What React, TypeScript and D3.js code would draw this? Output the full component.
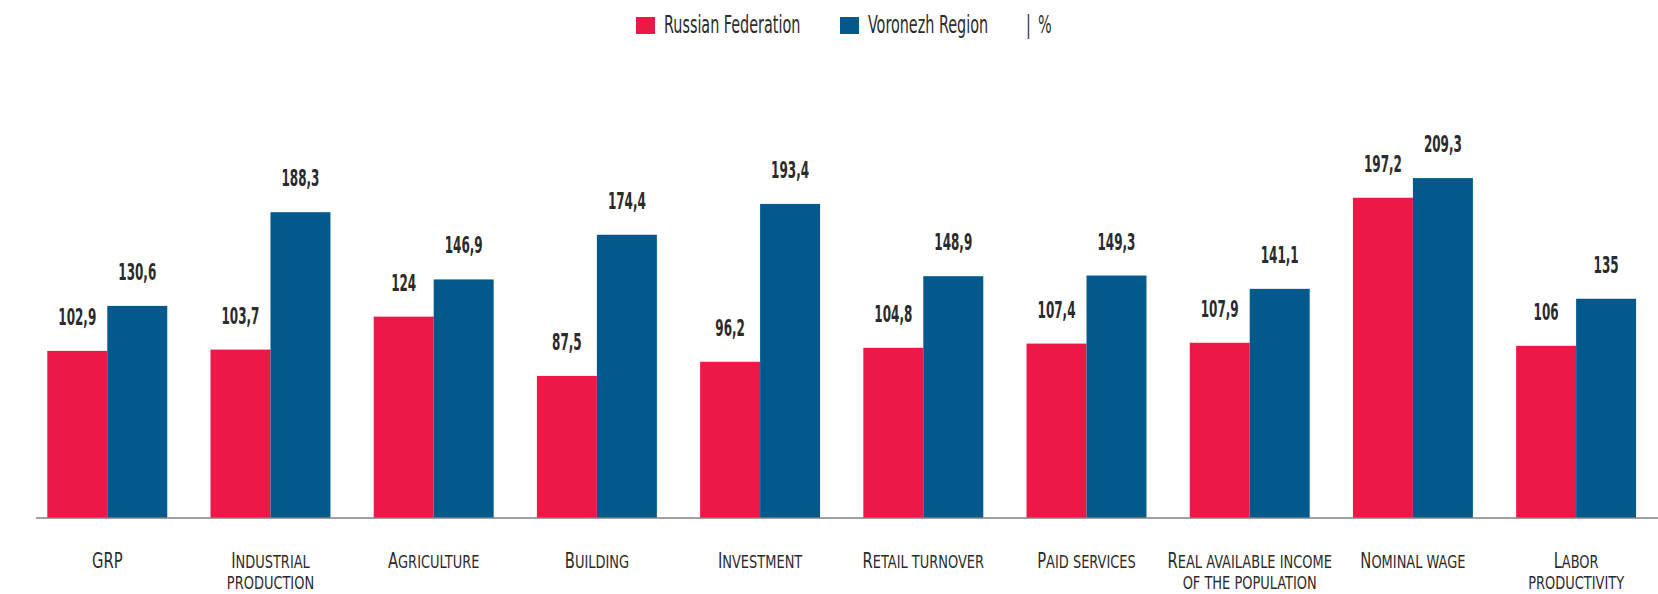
import React from "react";
import * as d3 from "d3";

const categories: string[][] = [
  ["GRP"],
  ["Industrial", "production"],
  ["Agriculture"],
  ["Building"],
  ["Investment"],
  ["Retail turnover"],
  ["Paid services"],
  ["Real available income", "of the population"],
  ["Nominal wage"],
  ["Labor", "productivity"],
];
const russia: number[] = [102.9, 103.7, 124, 87.5, 96.2, 104.8, 107.4, 107.9, 197.2, 106];
const voronezh: number[] = [130.6, 188.3, 146.9, 174.4, 193.4, 148.9, 149.3, 141.1, 209.3, 135];
const seriesNames = ["Russian Federation", "Voronezh Region"];
const unit = "%";

const RED = "#EC1848";
const BLUE = "#03598C";
const TEXT = "#2b2b2b";
const FONT = "'DejaVu Sans Condensed', 'DejaVu Sans', sans-serif";

const W = 1658;
const H = 594;

function SmallCaps({ text, size, ratio }: { text: string; size: number; ratio: number }) {
  const runs: { s: string; big: boolean }[] = [];
  for (const ch of text) {
    const big = ch !== ch.toLowerCase();
    const last = runs[runs.length - 1];
    if (last && last.big === big) last.s += ch;
    else runs.push({ s: ch, big });
  }
  return (
    <>
      {runs.map((r, i) => (
        <tspan key={i} fontSize={r.big ? size : size * ratio}>
          {r.s.toUpperCase()}
        </tspan>
      ))}
    </>
  );
}

export default function App() {
  const keys = categories.map((c) => c.join(" "));
  const x0 = d3
    .scaleBand<string>()
    .domain(keys)
    .range([47.3, 1636.1])
    .paddingInner(0.265)
    .paddingOuter(0);
  const x1 = d3.scaleBand<string>().domain(["ru", "vr"]).range([0, x0.bandwidth()]);
  const y = d3.scaleLinear().domain([0, 250]).range([518, 112]);
  const fmt = (v: number) => String(v).replace(".", ",");

  const series = [
    { key: "ru", values: russia, color: RED },
    { key: "vr", values: voronezh, color: BLUE },
  ];

  const legendText = (x: number, s: string) => (
    <text transform={`translate(${x},33) scale(0.64,1)`} fontSize={25} fill={TEXT}>
      {s}
    </text>
  );

  return (
    <svg
      width={W}
      height={H}
      style={{ position: "absolute", left: 0, top: 0, background: "#fff" }}
      fontFamily={FONT}
    >
      {/* legend */}
      <g>
        <rect x={636} y={17} width={19} height={17} fill={RED} />
        {legendText(664, seriesNames[0])}
        <rect x={840} y={17} width={19} height={17} fill={BLUE} />
        {legendText(868, seriesNames[1])}
        {legendText(1026, "|")}
        {legendText(1038, unit)}
      </g>

      {/* bars */}
      {keys.map((k, i) => (
        <g key={k} transform={`translate(${x0(k)},0)`}>
          {series.map((s) => (
            <g key={s.key}>
              <rect
                x={x1(s.key)}
                y={y(s.values[i])}
                width={x1.bandwidth()}
                height={y(0) - y(s.values[i])}
                fill={s.color}
              />
              <text
                transform={`translate(${(x1(s.key) as number) + x1.bandwidth() / 2},${y(s.values[i]) - 26}) scale(0.58,1)`}
                textAnchor="middle"
                fontSize={23}
                fontWeight="bold"
                fill={TEXT}
              >
                {fmt(s.values[i])}
              </text>
            </g>
          ))}
          {categories[i].map((line, li) => (
            <text
              key={li}
              transform={`translate(${x0.bandwidth() / 2},${568 + li * 21}) scale(0.8,1)`}
              textAnchor="middle"
              fill={TEXT}
            >
              <SmallCaps text={line} size={20.5} ratio={0.88} />
            </text>
          ))}
        </g>
      ))}

      {/* axis */}
      <line x1={36} x2={W} y1={y(0)} y2={y(0)} stroke="#808080" strokeWidth={1.3} />
    </svg>
  );
}
